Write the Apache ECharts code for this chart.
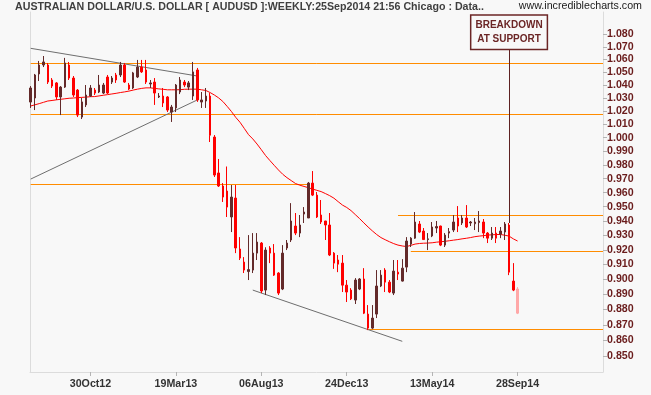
<!DOCTYPE html>
<html><head><meta charset="utf-8">
<script src="https://cdn.jsdelivr.net/npm/echarts@6/dist/echarts.min.js"></script>
<style>html,body{margin:0;padding:0;background:#f8f8f8;}#c{width:651px;height:395px;}</style>
</head><body><div id="c"></div>
<script>
const titleText = 'AUSTRALIAN DOLLAR/U.S. DOLLAR [ AUDUSD ]:WEEKLY:25Sep2014 21:56 Chicago : Data..';
const siteText = 'www.incrediblecharts.com';
const weekCount = 135;
const dateTickIndex = [14, 34, 54, 74, 94, 114];
const dateTickText = ['30Oct12', '19Mar13', '06Aug13', '24Dec13', '13May14', '28Sep14'];
const priceTicks = ['0.850','0.860','0.870','0.880','0.890','0.900','0.910','0.920','0.930','0.940','0.950','0.960','0.970','0.980','0.990','1.000','1.010','1.020','1.030','1.040','1.050','1.060','1.070','1.080'];

const opens = [1.0269,1.0300,1.0486,1.0556,1.0556,1.0439,1.0416,1.0308,1.0384,1.0556,
1.0454,1.0361,1.0155,1.0247,1.0315,1.0361,1.0346,1.0338,1.0462,1.0423,
1.0478,1.0478,1.0556,1.0400,1.0377,1.0462,1.0540,1.0517,1.0408,1.0423,
1.0308,1.0315,1.0308,1.0193,1.0224,1.0346,1.0423,1.0384,1.0315,1.0517,
1.0269,1.0277,1.0315,1.0005,0.9741,0.9647,0.9611,0.9427,0.9561,0.9205,
0.9116,0.9052,0.9062,0.9177,0.9246,0.8928,0.9212,0.9177,0.9042,0.8935,
0.9212,0.9267,0.9364,0.9315,0.9448,0.9420,0.9668,0.9582,0.9441,0.9399,
0.9371,0.9177,0.9130,0.9109,0.8961,0.8928,0.8862,0.8935,0.9002,0.8770,
0.8679,0.8770,0.8955,0.9062,0.8981,0.8908,0.9048,0.8988,0.9082,0.9239,
0.9280,0.9378,0.9329,0.9270,0.9295,0.9350,0.9364,0.9232,0.9315,0.9336,
0.9420,0.9385,0.9420,0.9385,0.9380,0.9388,0.9392,0.9315,0.9280,0.9315,
0.9308,0.9322,0.9371,0.8988,0.8935];
const highs = [1.0392,1.0486,1.0588,1.0627,1.0572,1.0454,1.0423,1.0392,1.0612,1.0580,
1.0470,1.0369,1.0300,1.0400,1.0400,1.0377,1.0478,1.0416,1.0478,1.0470,
1.0494,1.0580,1.0572,1.0416,1.0502,1.0596,1.0596,1.0596,1.0439,1.0454,
1.0338,1.0377,1.0315,1.0247,1.0408,1.0462,1.0439,1.0431,1.0580,1.0533,
1.0346,1.0377,1.0338,1.0020,0.9843,0.9668,0.9788,0.9654,0.9654,0.9287,
0.9150,0.9301,0.9315,0.9315,0.9253,0.9217,0.9225,0.9239,0.9048,0.9232,
0.9267,0.9525,0.9455,0.9441,0.9497,0.9676,0.9755,0.9604,0.9547,0.9400,
0.9455,0.9184,0.9164,0.9164,0.8995,0.8941,0.9008,0.9008,0.9075,0.8829,
0.8829,0.9062,0.9062,0.9075,0.8995,0.9130,0.9130,0.9136,0.9287,0.9287,
0.9462,0.9399,0.9350,0.9315,0.9392,0.9399,0.9366,0.9315,0.9350,0.9441,
0.9504,0.9441,0.9511,0.9399,0.9420,0.9469,0.9413,0.9322,0.9357,0.9357,
0.9357,0.9392,0.9385,0.9109,0.8948];
const lows = [1.0224,1.0208,1.0431,1.0540,1.0408,1.0377,1.0285,1.0170,1.0377,1.0439,
1.0308,1.0155,1.0140,1.0231,1.0308,1.0323,1.0338,1.0330,1.0330,1.0408,
1.0416,1.0462,1.0416,1.0361,1.0369,1.0454,1.0494,1.0408,1.0377,1.0247,
1.0300,1.0231,1.0193,1.0118,1.0193,1.0330,1.0384,1.0361,1.0285,1.0270,
1.0224,1.0224,0.9968,0.9712,0.9640,0.9533,0.9427,0.9322,0.9177,0.9130,
0.9042,0.8995,0.9042,0.9130,0.8908,0.8895,0.9109,0.9022,0.8895,0.8928,
0.9198,0.9253,0.9301,0.9287,0.9385,0.9420,0.9575,0.9420,0.9378,0.9267,
0.9157,0.9070,0.9048,0.8915,0.8849,0.8862,0.8836,0.8928,0.8770,0.8666,
0.8672,0.8744,0.8948,0.8915,0.8908,0.8895,0.8995,0.8985,0.9048,0.9219,
0.9275,0.9315,0.9267,0.9198,0.9287,0.9315,0.9225,0.9219,0.9280,0.9322,
0.9322,0.9371,0.9350,0.9364,0.9336,0.9322,0.9280,0.9246,0.9267,0.9246,
0.9280,0.9267,0.9028,0.8921,0.8770];
const closes = [1.0377,1.0478,1.0556,1.0580,1.0423,1.0392,1.0308,1.0384,1.0572,1.0454,
1.0323,1.0170,1.0270,1.0323,1.0377,1.0338,1.0400,1.0400,1.0338,1.0454,
1.0439,1.0556,1.0423,1.0369,1.0494,1.0540,1.0502,1.0423,1.0416,1.0338,
1.0315,1.0262,1.0208,1.0231,1.0400,1.0439,1.0400,1.0416,1.0502,1.0285,
1.0285,1.0315,1.0019,0.9726,0.9647,0.9568,0.9497,0.9568,0.9212,0.9143,
0.9062,0.9065,0.9177,0.9253,0.8922,0.9198,0.9177,0.9028,0.8908,0.9177,
0.9246,0.9399,0.9315,0.9371,0.9462,0.9668,0.9582,0.9427,0.9392,0.9371,
0.9164,0.9109,0.9102,0.8961,0.8915,0.8870,0.8995,0.9002,0.8776,0.8679,
0.8744,0.8955,0.9028,0.8981,0.8915,0.9055,0.9035,0.9075,0.9260,0.9280,
0.9392,0.9322,0.9270,0.9275,0.9357,0.9360,0.9232,0.9301,0.9325,0.9392,
0.9364,0.9420,0.9357,0.9392,0.9392,0.9399,0.9315,0.9280,0.9315,0.9280,
0.9329,0.9378,0.9048,0.8928,0.8776];
const movingAverage = [1.0239,1.0248,1.0257,1.0267,1.0277,1.0281,1.0286,1.0290,1.0294,1.0298,
1.0300,1.0303,1.0305,1.0307,1.0310,1.0311,1.0316,1.0321,1.0326,1.0331,
1.0336,1.0342,1.0347,1.0353,1.0361,1.0368,1.0374,1.0378,1.0378,1.0374,
1.0370,1.0367,1.0363,1.0363,1.0363,1.0364,1.0367,1.0368,1.0368,1.0368,
1.0363,1.0358,1.0342,1.0323,1.0301,1.0273,1.0236,1.0197,1.0153,1.0116,
1.0070,1.0023,0.9991,0.9953,0.9911,0.9868,0.9832,0.9797,0.9763,0.9732,
0.9707,0.9686,0.9665,0.9653,0.9644,0.9635,0.9625,0.9616,0.9607,0.9593,
0.9578,0.9560,0.9535,0.9511,0.9494,0.9472,0.9444,0.9416,0.9386,0.9357,
0.9330,0.9305,0.9284,0.9269,0.9255,0.9242,0.9232,0.9226,0.9222,0.9230,
0.9239,0.9243,0.9245,0.9246,0.9248,0.9252,0.9255,0.9258,0.9262,0.9266,
0.9270,0.9275,0.9279,0.9284,0.9290,0.9294,0.9297,0.9301,0.9303,0.9305,
0.9305,0.9300,0.9294,0.9275,0.9260];

const levelPrice = [1.0572, 1.0178, 0.9659, 0.9441, 0.9189, 0.8671];
const levelFrom = [0, 0, 0, 86, 89, 79];
const levelTo = [134, 134, 65, 134, 134, 134];
const trendStart = [[0, 1.0688], [0, 0.9697], [52, 0.8928]];
const trendEnd = [[39, 1.0470], [39, 1.0285], [87, 0.8594]];
const noteIndex = 112;
const noteLevel = 1.068;
const noteText = 'BREAKDOWN\nAT SUPPORT';
const currentWeek = 114;

const L = Math.log;
const FONT = "'Liberation Sans', Arial, sans-serif";
const UP = '#632a2a', DOWN = '#ff0000', PINK = '#ffa8a8';
const categories = Array.from({length: weekCount}, (_, i) => String(i));
const tickFn = (idx) => dateTickIndex.indexOf(idx) >= 0;
const yTickVals = priceTicks.map(s => L(parseFloat(s)));

const candleData = opens.map((o, i) => {
  const item = {value: [L(o), L(closes[i]), L(lows[i]), L(highs[i])]};
  if (i === currentWeek) item.itemStyle = {color: PINK, color0: PINK, borderColor: PINK, borderColor0: PINK};
  return item;
});

const markLineData = levelPrice.map((p, k) => [
  {coord: [levelFrom[k], L(p)], lineStyle: {color: '#ff8c00', width: 1, type: 'solid'}},
  {coord: [levelTo[k], L(p)]}
]);
markLineData.push([
  {coord: [noteIndex, L(noteLevel)], lineStyle: {color: '#5e2222', width: 1, type: 'solid'}},
  {coord: [noteIndex, L(highs[noteIndex])]}
]);

const trendSeries = trendStart.map((s, k) => ({
  type: 'line', xAxisIndex: 0, yAxisIndex: 0, silent: true, showSymbol: false, symbol: 'none',
  data: [[s[0], L(s[1])], [trendEnd[k][0], L(trendEnd[k][1])]],
  lineStyle: {color: '#6e6e6e', width: 1}, z: 2, animation: false
}));

const chart = echarts.init(document.getElementById('c'), null, {renderer: 'canvas'});
chart.setOption({
  animation: false,
  backgroundColor: '#f8f8f8',
  title: [
    {text: titleText, left: 15, top: 2, padding: 0,
     textStyle: {fontFamily: FONT, fontSize: 10.67, fontWeight: 'bold', color: '#3f3f3f'}},
    {text: siteText, right: 9, top: 1, padding: 0,
     textStyle: {fontFamily: FONT, fontSize: 10.67, fontWeight: 'normal', color: '#1a1a1a'}}
  ],
  grid: [
    {left: 30.7, right: 48, top: 9.65, bottom: 23, outerBoundsMode: 'none', containLabel: false},
    {left: 30, right: 48, top: 12, bottom: 23, outerBoundsMode: 'none', containLabel: false}
  ],
  xAxis: [
    {type: 'category', gridIndex: 0, data: categories, boundaryGap: false, position: 'bottom',
     axisLine: {show: false, onZero: false},
     axisTick: {show: true, length: 4, interval: tickFn, lineStyle: {color: '#b4b4b4'}},
     axisLabel: {interval: tickFn, margin: 7, color: '#333333', fontFamily: FONT, fontSize: 10.67, fontWeight: 'bold',
       formatter: (v) => dateTickText[dateTickIndex.indexOf(+v)] || ''},
     splitLine: {show: false}},
    {type: 'value', gridIndex: 1, min: 0, max: 1, position: 'bottom',
     axisLine: {show: true, onZero: false, lineStyle: {color: '#dcdcdc'}},
     axisTick: {show: false}, axisLabel: {show: false}, splitLine: {show: false}}
  ],
  yAxis: [
    {type: 'value', gridIndex: 0, position: 'right', min: L(0.84), max: L(1.10),
     axisLine: {show: false, onZero: false}, splitLine: {show: false},
     axisTick: {show: true, length: 4, customValues: yTickVals, lineStyle: {color: '#b4b4b4'}},
     axisLabel: {customValues: yTickVals, margin: 4, color: '#6a1c1c', fontFamily: FONT, fontSize: 10.67, fontWeight: 'bold',
       formatter: (v) => Math.exp(v).toFixed(3)}},
    {type: 'value', gridIndex: 1, position: 'left', min: 0, max: 1,
     axisLine: {show: true, onZero: false, lineStyle: {color: '#dcdcdc'}},
     axisTick: {show: false}, axisLabel: {show: false}, splitLine: {show: false}},
    {type: 'value', gridIndex: 1, position: 'right', min: 0, max: 1,
     axisLine: {show: true, onZero: false, lineStyle: {color: '#dcdcdc'}},
     axisTick: {show: false}, axisLabel: {show: false}, splitLine: {show: false}}
  ],
  series: [
    {type: 'line', name: 'MA', xAxisIndex: 0, yAxisIndex: 0, data: movingAverage.map(L),
     showSymbol: false, symbol: 'none', silent: true, z: 3,
     lineStyle: {color: '#ff0000', width: 1}},
    ...trendSeries,
    {type: 'candlestick', name: 'AUDUSD', xAxisIndex: 0, yAxisIndex: 0, data: candleData,
     barWidth: 2, clip: false, z: 4,
     itemStyle: {color: UP, color0: DOWN, borderColor: UP, borderColor0: DOWN, borderWidth: 1},
     markLine: {silent: true, symbol: ['none', 'none'], label: {show: false}, animation: false, z: 1,
       data: markLineData},
     markPoint: {silent: true, animation: false,
       data: [{coord: [noteIndex, L(noteLevel)], symbol: 'rect', symbolSize: 1,
         itemStyle: {color: 'rgba(0,0,0,0)'},
         label: {show: true, position: 'top', distance: 0, formatter: noteText,
           color: '#6b2525', fontFamily: FONT, fontSize: 10, fontWeight: 'bold', lineHeight: 14, align: 'center',
           backgroundColor: '#f8f8f8', borderColor: '#6b2525', borderWidth: 1.5, padding: [2, 4, 3, 4]}}]}}
  ]
});
</script></body></html>
